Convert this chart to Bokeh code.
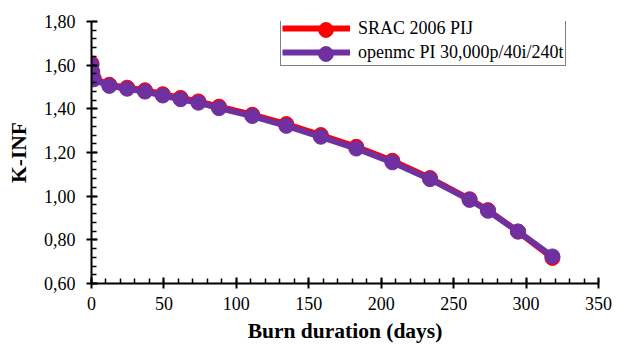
from bokeh.plotting import figure
from bokeh.models import Range1d, FixedTicker, CustomJSTickFormatter, Legend
from bokeh.embed import file_html
from bokeh.resources import INLINE

# ---- data ----
days = [0, 0.5, 1.5, 12.3, 24.6, 36.9, 49.2, 61.5, 73.8, 88.0, 111.0, 134.5,
        158.3, 182.8, 207.7, 233.7, 261.0, 273.7, 294.4, 318.2]
kinf_srac = [1.608, 1.570, 1.540, 1.510, 1.497, 1.485, 1.467, 1.450, 1.434, 1.410,
             1.373, 1.330, 1.280, 1.226, 1.162, 1.083, 0.986, 0.936, 0.838, 0.717]
kinf_openmc = [1.600, 1.565, 1.535, 1.505, 1.492, 1.479, 1.461, 1.444, 1.428, 1.403,
               1.367, 1.322, 1.272, 1.218, 1.155, 1.078, 0.983, 0.933, 0.838, 0.724]
label_srac = "SRAC 2006 PIJ"
label_openmc = "openmc PI 30,000p/40i/240t"
x_ticks = [0, 50, 100, 150, 200, 250, 300, 350]
x_minor = list(range(0, 351, 10))
y_ticks = [0.6, 0.8, 1.0, 1.2, 1.4, 1.6, 1.8]
y_minor = [round(0.6 + 0.04 * i, 2) for i in range(31)]

FONT = "Liberation Serif"

p = figure(width=625, height=345, output_backend="svg", toolbar_location=None,
           x_range=Range1d(0, 350), y_range=Range1d(0.6, 1.8),
           min_border_left=91, min_border_right=27, min_border_top=21,
           min_border_bottom=62)
p.outline_line_color = None
p.xgrid.visible = False
p.ygrid.visible = False
p.background_fill_color = "white"
p.border_fill_color = "white"

RED = "#FF0000"
PURPLE = "#7030A0"

r1 = p.line(days, kinf_srac, line_color=RED, line_width=6)
r2 = p.scatter(days, kinf_srac, size=15, fill_color=RED, line_color=RED)
r3 = p.line(days, kinf_openmc, line_color=PURPLE, line_width=6)
r4 = p.scatter(days, kinf_openmc, size=15, fill_color=PURPLE, line_color=PURPLE)

# main legend: box, line samples and labels
legend = Legend(items=[(label_srac, [r1]), (label_openmc, [r3])],
                location=(189, 217))
legend.border_line_color = "black"
legend.border_line_width = 1.5
legend.padding = 1
legend.margin = 0
legend.spacing = 0
legend.glyph_width = 68
legend.glyph_height = 24
legend.label_height = 24
legend.label_standoff = 8
legend.label_text_font = FONT
legend.label_text_font_size = "18px"
legend.label_text_color = "black"
p.add_layout(legend, "center")

# overlay legends: full-size markers on the legend line samples
for rend, loc in ((r2, (215.5, 235.5)), (r4, (215.5, 211.5))):
    mk = Legend(items=[("", [rend])], location=loc)
    mk.padding = 0
    mk.margin = 0
    mk.spacing = 0
    mk.glyph_width = 37
    mk.glyph_height = 37
    mk.label_height = 37
    mk.label_width = 0
    mk.label_standoff = 0
    mk.background_fill_alpha = 0
    mk.border_line_color = None
    mk.label_text_font_size = "1px"
    p.add_layout(mk, "center")

for ax in (p.xaxis[0], p.yaxis[0]):
    ax.axis_line_color = "black"
    ax.axis_line_width = 2
    ax.major_tick_line_color = "black"
    ax.major_tick_line_width = 2
    ax.minor_tick_line_color = "black"
    ax.minor_tick_line_width = 1.5
    ax.major_tick_in = 6
    ax.major_tick_out = 5
    ax.minor_tick_in = 5
    ax.minor_tick_out = 0
    ax.major_label_text_font = FONT
    ax.major_label_text_font_size = "18px"
    ax.major_label_text_color = "black"
    ax.axis_label_text_font = FONT
    ax.axis_label_text_font_size = "21.5px"
    ax.axis_label_text_font_style = "bold"
    ax.axis_label_text_color = "black"

p.xaxis.ticker = FixedTicker(ticks=x_ticks, minor_ticks=x_minor)
p.yaxis.ticker = FixedTicker(ticks=y_ticks, minor_ticks=y_minor)
p.yaxis.formatter = CustomJSTickFormatter(code="return tick.toFixed(2).replace('.', ',');")
p.xaxis.major_label_standoff = 8
p.yaxis.major_label_standoff = 11
p.xaxis.axis_label = "Burn duration (days)"
p.yaxis.axis_label = "K-INF"
p.xaxis.axis_label_standoff = 6
p.yaxis.axis_label_standoff = 10

open("out.html", "w").write(file_html(p, INLINE))
